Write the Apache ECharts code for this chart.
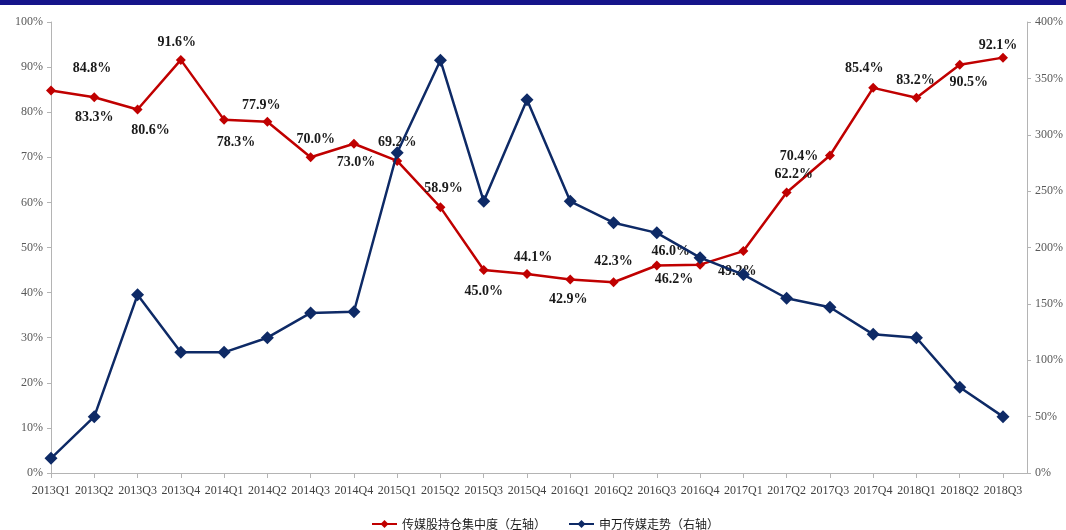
<!DOCTYPE html>
<html>
<head>
<meta charset="utf-8">
<script src="https://cdn.jsdelivr.net/npm/echarts@6/dist/echarts.min.js"></script>
<style>
html,body{margin:0;padding:0;background:#fff;}
#chart{width:1066px;height:530px;}
</style>
</head>
<body>
<div id="chart"></div>
<script>
const categories = ['2013Q1','2013Q2','2013Q3','2013Q4','2014Q1','2014Q2','2014Q3','2014Q4','2015Q1','2015Q2','2015Q3','2015Q4','2016Q1','2016Q2','2016Q3','2016Q4','2017Q1','2017Q2','2017Q3','2017Q4','2018Q1','2018Q2','2018Q3'];
// 传媒股持仓集中度（左轴），%
const concentration = [84.8,83.3,80.6,91.6,78.3,77.9,70.0,73.0,69.2,58.9,45.0,44.1,42.9,42.3,46.0,46.2,49.2,62.2,70.4,85.4,83.2,90.5,92.1];
// 申万传媒走势（右轴），%
const swMedia = [13,50,158,107,107,120,142,143,284,366,241,331,241,222,213,191,176,155,147,123,120,76,50];
const seriesNames = ['传媒股持仓集中度（左轴）','申万传媒走势（右轴）'];
const leftTicks = {min:0, max:100, interval:10};
const rightTicks = {min:0, max:400, interval:50};

// label placement (style only): offset of label centre from the point
const labelOffsets = [[41,-22],[0,20],[13,21],[-4,-17],[12,23],[-6,-16],[5,-18],[2,19],[0,-19],[3,-19],[0,21],[6,-17],[-2,20],[0,-21],[14,-14],[-26,15],[-6,20],[7,-18],[-31,1],[-9,-19],[-1,-17],[9,18],[-5,-12]];

const serif = "'Times New Roman','Liberation Serif',serif";
const axisColor = '#b4b4b4';
const red = '#C00000';
const blue = '#0e2a66';

const chart = echarts.init(document.getElementById('chart'));
const option = {
  animation:false,
  backgroundColor:'#fff',
  graphic:[{type:'rect', left:0, top:0, shape:{width:1066, height:5}, style:{fill:'#15148a'}, z:10}],
  grid:[
    {left:51, right:36, top:22, bottom:57},
    {left:51, right:60, top:22, bottom:57}
  ],
  legend:{
    left:366, top:513, itemWidth:25, itemHeight:10, itemGap:22,
    textStyle:{fontFamily:"'Noto Sans CJK SC',sans-serif", fontSize:12, color:'#1a1a1a'},
    data:seriesNames
  },
  xAxis:[
    {gridIndex:0, type:'value', min:0, max:1, axisLine:{show:true, lineStyle:{color:axisColor, width:1}}, axisTick:{show:false}, axisLabel:{show:false}, splitLine:{show:false}},
    {gridIndex:1, type:'category', data:categories, boundaryGap:false,
      axisLine:{show:true, lineStyle:{color:axisColor, width:1}},
      axisTick:{show:true, length:5, lineStyle:{color:axisColor}},
      axisLabel:{fontFamily:serif, fontSize:12, color:'#404040', margin:12, interval:0},
      splitLine:{show:false}}
  ],
  yAxis:[
    {gridIndex:0, type:'value', show:false},
    {gridIndex:1, type:'value', position:'left', min:leftTicks.min, max:leftTicks.max, interval:leftTicks.interval,
      axisLine:{show:true, lineStyle:{color:axisColor}},
      axisTick:{show:true, length:4, lineStyle:{color:axisColor}},
      axisLabel:{formatter:'{value}%', fontFamily:serif, fontSize:12, color:'#595959', margin:8},
      splitLine:{show:false}},
    {gridIndex:1, type:'value', position:'right', offset:24, min:rightTicks.min, max:rightTicks.max, interval:rightTicks.interval,
      axisLine:{show:true, lineStyle:{color:axisColor}},
      axisTick:{show:true, length:4, lineStyle:{color:axisColor}},
      axisLabel:{formatter:'{value}%', fontFamily:serif, fontSize:12, color:'#595959', margin:8},
      splitLine:{show:false}}
  ],
  series:[
    {name:seriesNames[0], type:'line', xAxisIndex:1, yAxisIndex:1,
      data:concentration.map((v,i)=>({value:v, label:{offset:labelOffsets[i]}})),
      symbol:'diamond', symbolSize:10,
      lineStyle:{color:red, width:2.5}, itemStyle:{color:red},
      label:{show:true, position:'inside', formatter:p=>p.value.toFixed(1)+'%',
        fontFamily:serif, fontWeight:'bold', fontSize:14, color:'#1a1a1a', align:'center', verticalAlign:'middle'},
      z:2},
    {name:seriesNames[1], type:'line', xAxisIndex:1, yAxisIndex:2,
      data:swMedia,
      symbol:'diamond', symbolSize:13,
      lineStyle:{color:blue, width:2.5}, itemStyle:{color:blue},
      z:3}
  ]
};
chart.setOption(option);
</script>
</body>
</html>
